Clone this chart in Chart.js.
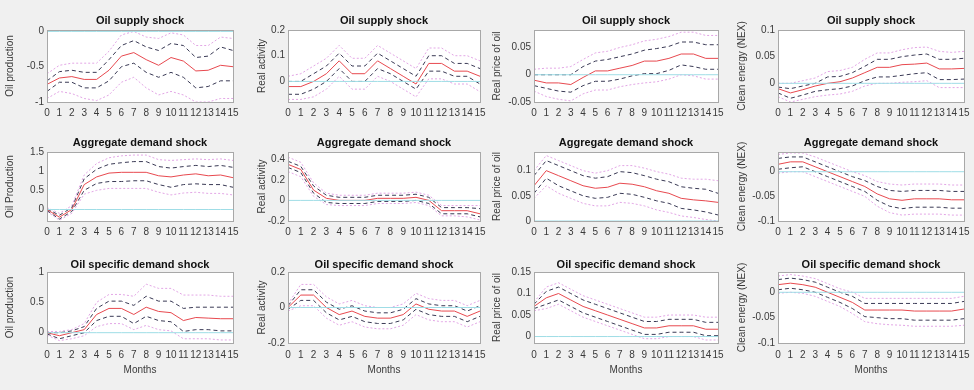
<!DOCTYPE html>
<html lang="en">
<head>
  <meta charset="UTF-8" />
  <title>Impulse responses</title>
  <script src="https://cdn.jsdelivr.net/npm/chart.js"></script>
  <style>
    html, body { margin: 0; padding: 0; background: #f0f0f0; }
    body { width: 974px; height: 390px; position: relative; overflow: hidden; }
    .panel { position: absolute; }
  </style>
</head>
<body>
  <div id="fig"></div>

  <script>
    // ---- data ----
    const months = [0, 1, 2, 3, 4, 5, 6, 7, 8, 9, 10, 11, 12, 13, 14, 15];

    // Oil supply shock -> oil production
    const supProdMed  = [-0.75, -0.66, -0.64, -0.68, -0.68, -0.55, -0.35, -0.30, -0.40, -0.48, -0.37, -0.42, -0.56, -0.55, -0.48, -0.50];
    const supProdHi68 = [-0.70, -0.57, -0.55, -0.58, -0.58, -0.40, -0.20, -0.13, -0.22, -0.27, -0.17, -0.20, -0.37, -0.35, -0.22, -0.27];
    const supProdLo68 = [-0.85, -0.72, -0.72, -0.80, -0.80, -0.70, -0.50, -0.45, -0.58, -0.65, -0.58, -0.65, -0.80, -0.78, -0.70, -0.70];
    const supProdHi90 = [-0.60, -0.48, -0.45, -0.45, -0.45, -0.28, -0.05, 0.00, -0.08, -0.10, -0.02, -0.05, -0.20, -0.20, -0.08, -0.10];
    const supProdLo90 = [-0.95, -0.85, -0.88, -0.95, -0.98, -0.90, -0.72, -0.65, -0.80, -0.90, -0.85, -0.90, -1.00, -1.00, -0.95, -0.95];

    // Oil supply shock -> real activity
    const supActMed  = [-0.02, -0.02, 0.00, 0.03, 0.08, 0.03, 0.03, 0.08, 0.05, 0.02, -0.01, 0.07, 0.07, 0.04, 0.04, 0.02];
    const supActHi68 = [0.00, 0.00, 0.03, 0.06, 0.11, 0.06, 0.06, 0.11, 0.08, 0.05, 0.02, 0.10, 0.10, 0.07, 0.07, 0.05];
    const supActLo68 = [-0.05, -0.05, -0.03, 0.00, 0.05, 0.00, 0.00, 0.05, 0.03, 0.00, -0.03, 0.04, 0.04, 0.02, 0.02, -0.01];
    const supActHi90 = [0.02, 0.03, 0.06, 0.09, 0.14, 0.09, 0.09, 0.14, 0.11, 0.08, 0.05, 0.13, 0.13, 0.10, 0.10, 0.08];
    const supActLo90 = [-0.07, -0.07, -0.06, -0.03, 0.02, -0.03, -0.03, 0.02, 0.00, -0.03, -0.06, 0.01, 0.01, -0.01, -0.01, -0.04];

    // Oil supply shock -> real price of oil
    const supPrcMed  = [-0.010, -0.015, -0.015, -0.018, -0.005, 0.007, 0.007, 0.012, 0.017, 0.025, 0.025, 0.030, 0.038, 0.038, 0.030, 0.030];
    const supPrcHi68 = [0.000, 0.000, 0.000, 0.000, 0.015, 0.025, 0.028, 0.033, 0.038, 0.045, 0.048, 0.052, 0.060, 0.060, 0.055, 0.055];
    const supPrcLo68 = [-0.020, -0.025, -0.030, -0.032, -0.020, -0.012, -0.012, -0.008, -0.002, 0.002, 0.002, 0.008, 0.018, 0.015, 0.010, 0.010];
    const supPrcHi90 = [0.010, 0.012, 0.012, 0.015, 0.028, 0.040, 0.043, 0.050, 0.055, 0.062, 0.065, 0.070, 0.078, 0.078, 0.072, 0.072];
    const supPrcLo90 = [-0.030, -0.040, -0.045, -0.048, -0.035, -0.028, -0.028, -0.022, -0.018, -0.015, -0.013, -0.008, 0.000, -0.002, -0.008, -0.008];

    // Oil supply shock -> clean energy
    const supNexMed  = [-0.010, -0.018, -0.012, -0.005, 0.000, 0.003, 0.010, 0.020, 0.030, 0.030, 0.035, 0.036, 0.038, 0.027, 0.027, 0.028];
    const supNexHi68 = [-0.007, -0.010, -0.005, 0.000, 0.012, 0.013, 0.020, 0.032, 0.045, 0.045, 0.050, 0.053, 0.055, 0.045, 0.045, 0.047];
    const supNexLo68 = [-0.018, -0.028, -0.022, -0.015, -0.012, -0.010, -0.005, 0.005, 0.012, 0.012, 0.015, 0.018, 0.020, 0.007, 0.007, 0.008];
    const supNexHi90 = [0.000, 0.000, 0.005, 0.010, 0.022, 0.024, 0.030, 0.045, 0.057, 0.057, 0.063, 0.067, 0.068, 0.060, 0.058, 0.060];
    const supNexLo90 = [-0.025, -0.035, -0.030, -0.025, -0.022, -0.020, -0.015, -0.005, 0.000, 0.000, 0.002, 0.003, 0.005, -0.008, -0.008, -0.008];

    // Aggregate demand shock -> oil production
    const aggProdMed  = [0.00, -0.20, 0.00, 0.65, 0.85, 0.95, 0.97, 0.97, 0.97, 0.88, 0.85, 0.90, 0.93, 0.88, 0.90, 0.83];
    const aggProdHi68 = [0.02, -0.15, 0.05, 0.80, 1.05, 1.18, 1.22, 1.25, 1.25, 1.12, 1.08, 1.12, 1.15, 1.12, 1.15, 1.10];
    const aggProdLo68 = [-0.03, -0.25, -0.05, 0.50, 0.68, 0.73, 0.73, 0.75, 0.75, 0.65, 0.58, 0.65, 0.67, 0.65, 0.65, 0.58];
    const aggProdHi90 = [0.05, -0.10, 0.10, 0.90, 1.20, 1.35, 1.40, 1.42, 1.42, 1.30, 1.28, 1.30, 1.32, 1.30, 1.32, 1.28];
    const aggProdLo90 = [-0.05, -0.28, -0.10, 0.40, 0.50, 0.55, 0.55, 0.55, 0.55, 0.45, 0.38, 0.43, 0.45, 0.42, 0.42, 0.38];

    // Aggregate demand shock -> real activity
    const aggActMed  = [0.35, 0.30, 0.10, 0.02, 0.00, 0.00, 0.00, 0.02, 0.02, 0.02, 0.03, 0.00, -0.10, -0.10, -0.10, -0.13];
    const aggActHi68 = [0.38, 0.33, 0.14, 0.05, 0.03, 0.03, 0.03, 0.05, 0.05, 0.05, 0.06, 0.03, -0.07, -0.07, -0.07, -0.08];
    const aggActLo68 = [0.32, 0.27, 0.07, -0.02, -0.03, -0.03, -0.03, -0.01, -0.01, -0.01, 0.00, -0.03, -0.13, -0.13, -0.13, -0.16];
    const aggActHi90 = [0.42, 0.37, 0.17, 0.07, 0.05, 0.05, 0.05, 0.07, 0.07, 0.07, 0.08, 0.05, -0.05, -0.05, -0.05, -0.05];
    const aggActLo90 = [0.28, 0.23, 0.04, -0.04, -0.05, -0.05, -0.05, -0.03, -0.03, -0.03, -0.02, -0.05, -0.15, -0.15, -0.16, -0.19];

    // Aggregate demand shock -> real price of oil
    const aggPrcMed  = [0.070, 0.100, 0.090, 0.080, 0.070, 0.065, 0.067, 0.075, 0.073, 0.068, 0.060, 0.055, 0.045, 0.042, 0.040, 0.037];
    const aggPrcHi68 = [0.090, 0.120, 0.110, 0.100, 0.090, 0.085, 0.088, 0.098, 0.096, 0.090, 0.083, 0.078, 0.068, 0.065, 0.063, 0.055];
    const aggPrcLo68 = [0.055, 0.085, 0.070, 0.060, 0.050, 0.045, 0.047, 0.055, 0.053, 0.047, 0.040, 0.035, 0.025, 0.022, 0.018, 0.012];
    const aggPrcHi90 = [0.100, 0.130, 0.120, 0.110, 0.100, 0.095, 0.100, 0.110, 0.110, 0.105, 0.098, 0.093, 0.085, 0.083, 0.083, 0.080];
    const aggPrcLo90 = [0.045, 0.070, 0.055, 0.045, 0.035, 0.030, 0.030, 0.037, 0.035, 0.030, 0.022, 0.017, 0.010, 0.007, 0.003, 0.000];

    // Aggregate demand shock -> clean energy
    const aggNexMed  = [0.015, 0.020, 0.020, 0.010, 0.000, -0.010, -0.020, -0.030, -0.045, -0.055, -0.058, -0.055, -0.055, -0.055, -0.057, -0.057];
    const aggNexHi68 = [0.027, 0.030, 0.030, 0.020, 0.010, 0.000, -0.010, -0.018, -0.030, -0.038, -0.040, -0.038, -0.038, -0.038, -0.040, -0.040];
    const aggNexLo68 = [0.005, 0.008, 0.010, 0.000, -0.010, -0.020, -0.030, -0.040, -0.058, -0.070, -0.075, -0.072, -0.072, -0.072, -0.074, -0.074];
    const aggNexHi90 = [0.035, 0.038, 0.038, 0.030, 0.020, 0.010, 0.000, -0.008, -0.020, -0.025, -0.027, -0.025, -0.025, -0.025, -0.027, -0.027];
    const aggNexLo90 = [-0.003, 0.000, 0.000, -0.010, -0.020, -0.030, -0.040, -0.050, -0.070, -0.083, -0.088, -0.086, -0.086, -0.086, -0.088, -0.088];

    // Oil specific demand shock -> oil production
    const spcProdMed  = [0.00, -0.05, 0.00, 0.05, 0.30, 0.40, 0.40, 0.30, 0.42, 0.35, 0.33, 0.20, 0.25, 0.24, 0.23, 0.23];
    const spcProdHi68 = [0.00, 0.00, 0.03, 0.10, 0.40, 0.52, 0.52, 0.45, 0.60, 0.52, 0.52, 0.40, 0.42, 0.42, 0.42, 0.42];
    const spcProdLo68 = [-0.02, -0.10, -0.05, 0.00, 0.20, 0.27, 0.27, 0.15, 0.27, 0.20, 0.18, 0.02, 0.05, 0.05, 0.03, 0.03];
    const spcProdHi90 = [0.02, 0.02, 0.05, 0.15, 0.50, 0.63, 0.63, 0.60, 0.80, 0.73, 0.73, 0.62, 0.62, 0.62, 0.60, 0.60];
    const spcProdLo90 = [-0.04, -0.13, -0.10, -0.05, 0.10, 0.15, 0.15, 0.05, 0.12, 0.05, 0.03, -0.10, -0.10, -0.10, -0.12, -0.12];

    // Oil specific demand shock -> real activity
    const spcActMed  = [0.00, 0.07, 0.07, 0.00, -0.04, -0.02, -0.05, -0.06, -0.06, -0.04, 0.02, -0.01, -0.02, -0.02, -0.05, -0.02];
    const spcActHi68 = [0.01, 0.10, 0.10, 0.03, -0.01, 0.01, -0.02, -0.03, -0.03, -0.01, 0.05, 0.02, 0.01, 0.01, -0.02, 0.01];
    const spcActLo68 = [-0.01, 0.04, 0.04, -0.03, -0.07, -0.05, -0.08, -0.09, -0.09, -0.07, -0.01, -0.04, -0.05, -0.05, -0.08, -0.05];
    const spcActHi90 = [0.02, 0.13, 0.13, 0.06, 0.02, 0.04, 0.01, 0.00, 0.00, 0.02, 0.08, 0.05, 0.04, 0.04, 0.01, 0.04];
    const spcActLo90 = [-0.02, 0.01, 0.01, -0.06, -0.10, -0.08, -0.11, -0.12, -0.12, -0.10, -0.04, -0.07, -0.08, -0.08, -0.11, -0.08];

    // Oil specific demand shock -> real price of oil
    const spcPrcMed  = [0.070, 0.090, 0.100, 0.085, 0.070, 0.060, 0.050, 0.040, 0.030, 0.020, 0.020, 0.025, 0.025, 0.025, 0.017, 0.017];
    const spcPrcHi68 = [0.075, 0.105, 0.115, 0.100, 0.085, 0.075, 0.065, 0.055, 0.045, 0.035, 0.035, 0.040, 0.040, 0.040, 0.033, 0.033];
    const spcPrcLo68 = [0.065, 0.075, 0.085, 0.070, 0.055, 0.045, 0.035, 0.025, 0.015, 0.005, 0.005, 0.010, 0.010, 0.010, 0.002, 0.002];
    const spcPrcHi90 = [0.080, 0.115, 0.125, 0.110, 0.095, 0.085, 0.075, 0.065, 0.055, 0.045, 0.045, 0.050, 0.050, 0.050, 0.045, 0.045];
    const spcPrcLo90 = [0.060, 0.065, 0.075, 0.060, 0.045, 0.035, 0.025, 0.015, 0.005, -0.005, -0.005, 0.000, 0.000, 0.000, -0.008, -0.008];

    // Oil specific demand shock -> clean energy
    const spcNexMed  = [0.015, 0.018, 0.015, 0.010, 0.000, -0.010, -0.020, -0.035, -0.035, -0.035, -0.035, -0.037, -0.037, -0.037, -0.037, -0.033];
    const spcNexHi68 = [0.025, 0.028, 0.025, 0.020, 0.010, 0.000, -0.008, -0.022, -0.022, -0.022, -0.022, -0.022, -0.022, -0.022, -0.022, -0.018];
    const spcNexLo68 = [0.005, 0.008, 0.005, 0.000, -0.010, -0.020, -0.032, -0.048, -0.050, -0.052, -0.052, -0.055, -0.055, -0.055, -0.055, -0.052];
    const spcNexHi90 = [0.032, 0.035, 0.032, 0.027, 0.017, 0.007, 0.000, -0.012, -0.012, -0.012, -0.012, -0.012, -0.012, -0.012, -0.012, -0.008];
    const spcNexLo90 = [-0.002, 0.000, -0.002, -0.008, -0.018, -0.028, -0.042, -0.058, -0.062, -0.064, -0.065, -0.067, -0.067, -0.067, -0.067, -0.065];

    const zeroLine = months.map(() => 0);

    // y-axis tick labels per panel
    const ticksProdSup = [-1, -0.5, 0];
    const ticksActSup  = [0, 0.1, 0.2];
    const ticksPrcSup  = [-0.05, 0, 0.05];
    const ticksNexSup  = [0, 0.05, 0.1];
    const ticksProdAgg = [0, 0.5, 1, 1.5];
    const ticksActAgg  = [-0.2, 0, 0.2, 0.4];
    const ticksPrcAgg  = [0, 0.05, 0.1];
    const ticksNexAgg  = [-0.1, -0.05, 0];
    const ticksProdSpc = [0, 0.5, 1];
    const ticksActSpc  = [-0.2, 0, 0.2];
    const ticksPrcSpc  = [0, 0.05, 0.1, 0.15];
    const ticksNexSpc  = [-0.1, -0.05, 0];

    const panels = [
      { row: 0, col: 0, title: 'Oil supply shock', ylab: 'Oil production', min: -1, max: 0.02, ticks: ticksProdSup,
        med: supProdMed, hi68: supProdHi68, lo68: supProdLo68, hi90: supProdHi90, lo90: supProdLo90 },
      { row: 0, col: 1, title: 'Oil supply shock', ylab: 'Real activity', min: -0.08, max: 0.2, ticks: ticksActSup,
        med: supActMed, hi68: supActHi68, lo68: supActLo68, hi90: supActHi90, lo90: supActLo90 },
      { row: 0, col: 2, title: 'Oil supply shock', ylab: 'Real price of oil', min: -0.05, max: 0.082, ticks: ticksPrcSup,
        med: supPrcMed, hi68: supPrcHi68, lo68: supPrcLo68, hi90: supPrcHi90, lo90: supPrcLo90 },
      { row: 0, col: 3, title: 'Oil supply shock', ylab: 'Clean energy (NEX)', min: -0.035, max: 0.1, ticks: ticksNexSup,
        med: supNexMed, hi68: supNexHi68, lo68: supNexLo68, hi90: supNexHi90, lo90: supNexLo90 },
      { row: 1, col: 0, title: 'Aggregate demand shock', ylab: 'Oil Production', min: -0.3, max: 1.5, ticks: ticksProdAgg,
        med: aggProdMed, hi68: aggProdHi68, lo68: aggProdLo68, hi90: aggProdHi90, lo90: aggProdLo90 },
      { row: 1, col: 1, title: 'Aggregate demand shock', ylab: 'Real activity', min: -0.2, max: 0.47, ticks: ticksActAgg,
        med: aggActMed, hi68: aggActHi68, lo68: aggActLo68, hi90: aggActHi90, lo90: aggActLo90 },
      { row: 1, col: 2, title: 'Aggregate demand shock', ylab: 'Real price of oil', min: 0, max: 0.137, ticks: ticksPrcAgg,
        med: aggPrcMed, hi68: aggPrcHi68, lo68: aggPrcLo68, hi90: aggPrcHi90, lo90: aggPrcLo90 },
      { row: 1, col: 3, title: 'Aggregate demand shock', ylab: 'Clean energy (NEX)', min: -0.1, max: 0.04, ticks: ticksNexAgg,
        med: aggNexMed, hi68: aggNexHi68, lo68: aggNexLo68, hi90: aggNexHi90, lo90: aggNexLo90 },
      { row: 2, col: 0, title: 'Oil specific demand shock', ylab: 'Oil production', min: -0.17, max: 1, ticks: ticksProdSpc,
        med: spcProdMed, hi68: spcProdHi68, lo68: spcProdLo68, hi90: spcProdHi90, lo90: spcProdLo90 },
      { row: 2, col: 1, title: 'Oil specific demand shock', ylab: 'Real activity', min: -0.2, max: 0.2, ticks: ticksActSpc,
        med: spcActMed, hi68: spcActHi68, lo68: spcActLo68, hi90: spcActHi90, lo90: spcActLo90 },
      { row: 2, col: 2, title: 'Oil specific demand shock', ylab: 'Real price of oil', min: -0.015, max: 0.15, ticks: ticksPrcSpc,
        med: spcPrcMed, hi68: spcPrcHi68, lo68: spcPrcLo68, hi90: spcPrcHi90, lo90: spcPrcLo90 },
      { row: 2, col: 3, title: 'Oil specific demand shock', ylab: 'Clean energy (NEX)', min: -0.1, max: 0.04, ticks: ticksNexSpc,
        med: spcNexMed, hi68: spcNexHi68, lo68: spcNexLo68, hi90: spcNexHi90, lo90: spcNexLo90 }
    ];

    // ---- layout (plot-box edges in page pixels) ----
    const colLeft   = [47, 288, 534, 778];
    const colRight  = [233, 480, 718, 964];
    const colAxisW  = [47, 38, 45, 44];
    const yTitleX   = [10, 262, 497, 742];
    const rowTop    = [30, 152, 272];
    const rowBottom = [102, 221, 343];
    const titleH = 22;
    const rightPad = 8;

    const FONT = '"Liberation Sans", Arial, Helvetica, sans-serif';

    // white plot area, grey box, and the panel title centred over the box
    const axesBox = {
      id: 'axesBox',
      beforeDatasetsDraw(chart) {
        const a = chart.chartArea, ctx = chart.ctx;
        ctx.save();
        ctx.fillStyle = '#ffffff';
        ctx.fillRect(a.left, a.top, a.right - a.left, a.bottom - a.top);
        ctx.restore();
      },
      afterDraw(chart, args, opts) {
        const a = chart.chartArea, ctx = chart.ctx;
        ctx.save();
        ctx.strokeStyle = '#a8a8a8';
        ctx.lineWidth = 1;
        ctx.strokeRect(Math.round(a.left) + 0.5, Math.round(a.top) + 0.5,
                       Math.round(a.right - a.left), Math.round(a.bottom - a.top));
        ctx.fillStyle = '#111';
        ctx.font = 'bold 11px ' + FONT;
        ctx.textAlign = 'center';
        ctx.textBaseline = 'middle';
        ctx.fillText(opts.text, (a.left + a.right) / 2, a.top - opts.gap);
        ctx.restore();
      }
    };

    function line(data, color, dash, width) {
      return {
        data: months.map((m, i) => ({ x: m, y: data[i] })),
        borderColor: color,
        borderDash: dash,
        borderWidth: width,
        pointRadius: 0,
        tension: 0,
        fill: false
      };
    }

    const fig = document.getElementById('fig');

    panels.forEach(p => {
      const lastRow = p.row === 2;
      const xH = lastRow ? 33 : 20;
      const axisW = colAxisW[p.col];
      const left = colLeft[p.col] - axisW;
      const top = rowTop[p.row] - titleH;
      const w = axisW + (colRight[p.col] - colLeft[p.col]) + rightPad;
      const h = titleH + (rowBottom[p.row] - rowTop[p.row]) + xH;
      const yTitlePad = yTitleX[p.col] - 6 - left;

      const box = document.createElement('div');
      box.className = 'panel';
      box.style.left = left + 'px';
      box.style.top = top + 'px';
      box.style.width = w + 'px';
      box.style.height = h + 'px';
      const cv = document.createElement('canvas');
      box.appendChild(cv);
      fig.appendChild(box);

      new Chart(cv, {
        type: 'line',
        data: {
          datasets: [
            line(zeroLine, '#9fdde6', [], 1),
            line(p.hi90, '#e3a6e6', [2, 2], 1),
            line(p.lo90, '#e3a6e6', [2, 2], 1),
            line(p.hi68, '#3a3a55', [4, 3], 1),
            line(p.lo68, '#3a3a55', [4, 3], 1),
            line(p.med, '#e8494f', [], 1)
          ]
        },
        options: {
          responsive: true,
          maintainAspectRatio: false,
          animation: false,
          layout: { padding: { left: 0, right: rightPad, top: titleH, bottom: 0 } },
          plugins: {
            legend: { display: false },
            tooltip: { enabled: false },
            title: { display: false },
            axesBox: { text: p.title, gap: lastRow ? 7 : 9 }
          },
          scales: {
            x: {
              type: 'linear',
              min: 0,
              max: 15,
              grid: { display: false, drawTicks: false },
              border: { display: false },
              ticks: {
                stepSize: 1,
                autoSkip: false,
                maxRotation: 0,
                padding: lastRow ? 6 : 5,
                color: '#3a3a3a',
                font: { family: FONT, size: 10 }
              },
              title: {
                display: lastRow,
                text: 'Months',
                color: '#3a3a3a',
                padding: { top: 0, bottom: 0 },
                font: { family: FONT, size: 10 }
              },
              afterFit(scale) {
                scale.height = xH;
                scale.paddingLeft = 0;
                scale.paddingRight = 0;
              }
            },
            y: {
              min: p.min,
              max: p.max,
              grid: { display: false, drawTicks: false },
              border: { display: false },
              afterBuildTicks(scale) {
                scale.ticks = p.ticks.map(v => ({ value: v }));
              },
              ticks: {
                padding: 3,
                color: '#3a3a3a',
                font: { family: FONT, size: 10 },
                callback: v => String(v)
              },
              title: {
                display: true,
                text: p.ylab,
                color: '#3a3a3a',
                padding: { top: yTitlePad, bottom: 0 },
                font: { family: FONT, size: 10 }
              },
              afterFit(scale) {
                scale.width = axisW;
                scale.paddingTop = 0;
                scale.paddingBottom = 0;
              }
            }
          }
        },
        plugins: [axesBox]
      });
    });
  </script>
</body>
</html>
